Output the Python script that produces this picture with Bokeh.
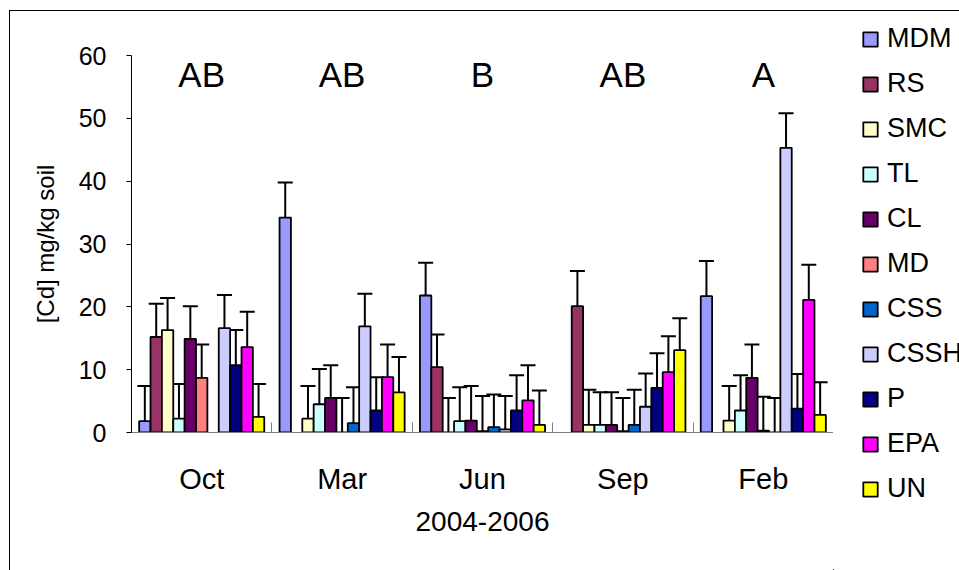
from bokeh.plotting import figure
from bokeh.layouts import row
from bokeh.models import (ColumnDataSource, Whisker, TeeHead, Legend, LegendItem,
                          FixedTicker, Range1d)
from bokeh.embed import file_html
from bokeh.resources import INLINE
from bokeh.core.properties import value

nan = float("nan")

# sampling months (2004-2006)
months = ["Oct", "Mar", "Jun", "Sep", "Feb"]
# significance letters per month
letters = ["AB", "AB", "B", "AB", "A"]

# sites, in drawing order
sites = ["MDM", "RS", "SMC", "TL", "CL", "MD", "CSS", "CSSH", "P", "EPA", "UN"]
site_colors = ["#9999FF", "#993366", "#FFFFCC", "#CCFFFF", "#660066", "#FF8080",
               "#0066CC", "#CCCCFF", "#000080", "#FF00FF", "#FFFF00"]

# mean [Cd] (mg/kg soil) per site, one value per month; nan = not sampled
mdm  = [1.8, 34.2, 21.8, nan, 21.7]
rs   = [15.2, nan, 10.4, 20.1, nan]
smc  = [16.3, 2.2, 0.0, 1.2, 1.9]
tl   = [2.2, 4.5, 1.8, 1.2, 3.5]
cl   = [14.9, 5.5, 1.9, 1.2, 8.7]
md   = [8.7, 0.0, 0.2, 0.2, 0.3]
css  = [nan, 1.5, 0.85, 1.2, 0.0]
cssh = [16.6, 16.9, 0.5, 4.1, 45.3]
p_   = [10.7, 3.5, 3.5, 7.1, 3.8]
epa  = [13.6, 8.8, 5.1, 9.6, 21.1]
un   = [2.5, 6.4, 1.2, 13.1, 2.8]

# standard deviations (upper error bars)
mdm_sd  = [5.6, 5.6, 5.2, nan, 5.6]
rs_sd   = [5.3, nan, 5.2, 5.6, nan]
smc_sd  = [5.1, 5.2, 5.5, 5.6, 5.5]
tl_sd   = [5.5, 5.6, 5.4, 5.2, 5.6]
cl_sd   = [5.2, 5.2, 5.5, 5.2, 5.3]
md_sd   = [5.3, 5.5, 5.6, 5.3, 5.4]
css_sd  = [nan, 5.7, 5.2, 5.6, 5.5]
cssh_sd = [5.3, 5.2, 5.3, 5.3, 5.5]
p_sd    = [5.6, 5.3, 5.6, 5.5, 5.5]
epa_sd  = [5.6, 5.2, 5.6, 5.7, 5.6]
un_sd   = [5.2, 5.6, 5.5, 5.1, 5.2]

means = [mdm, rs, smc, tl, cl, md, css, cssh, p_, epa, un]
sds = [mdm_sd, rs_sd, smc_sd, tl_sd, cl_sd, md_sd, css_sd, cssh_sd, p_sd, epa_sd, un_sd]

FONT = "Liberation Sans"
BAR_W = 0.081

# main chart
p = figure(width=823, height=559, x_range=Range1d(0, 5), y_range=Range1d(0, 60),
           output_backend="svg", toolbar_location=None,
           min_border_left=121, min_border_right=0,
           min_border_top=44, min_border_bottom=138)
p.frame_align = False
p.outline_line_color = None
p.grid.visible = False
p.background_fill_color = "white"
p.border_fill_color = "white"

# side panel holding the legend (no axes, frame fills the panel)
pl = figure(width=126, height=559, x_range=Range1d(0, 1), y_range=Range1d(0, 1),
            output_backend="svg", toolbar_location=None,
            x_axis_location=None, y_axis_location=None,
            min_border_left=0, min_border_right=0, min_border_top=0, min_border_bottom=0)
pl.frame_align = False
pl.grid.visible = False
pl.outline_line_color = None
pl.background_fill_color = "white"
pl.border_fill_color = "white"

legend_items = []
for j, (name, col, vals, errs) in enumerate(zip(sites, site_colors, means, sds)):
    xs = [i + 0.5 + (j - 5) * BAR_W for i in range(len(months))]
    src = ColumnDataSource(dict(x=xs, top=vals))
    p.vbar(x="x", top="top", width=BAR_W, source=src, fill_color=col,
           line_color="black", line_width=1.8)
    # swatch renderer for the legend, kept outside the visible range
    swatch = pl.vbar(x=[-5], top=[-5], bottom=[-6], width=0.1, fill_color=col,
                     line_color="black", line_width=1.8)
    legend_items.append(LegendItem(label=name, renderers=[swatch]))
    ex = [x for x, v, e in zip(xs, vals, errs) if v == v and e == e]
    lo = [v for v, e in zip(vals, errs) if v == v and e == e]
    hi = [v + e for v, e in zip(vals, errs) if v == v and e == e]
    esrc = ColumnDataSource(dict(base=ex, lower=lo, upper=hi))
    p.add_layout(Whisker(base="base", lower="lower", upper="upper", source=esrc,
                         line_color="black", line_width=2, lower_head=None,
                         upper_head=TeeHead(size=15, line_color="black", line_width=2)))

# significance letters above each month
p.text(x=[i + 0.5 for i in range(len(months))], y=[57] * len(months), text=letters,
       text_font=value(FONT), text_font_size="35px", text_align="center",
       text_baseline="middle", text_color="black")

# axes
yax = p.yaxis[0]
yax.ticker = FixedTicker(ticks=[0, 10, 20, 30, 40, 50, 60])
yax.axis_label = "[Cd] mg/kg soil"
yax.axis_label_text_font = FONT
yax.axis_label_text_font_style = "normal"
yax.axis_label_text_font_size = "24px"
yax.axis_label_text_color = "black"
yax.axis_label_standoff = 17
yax.major_label_text_font = FONT
yax.major_label_text_font_size = "25px"
yax.major_label_text_color = "black"
yax.major_label_standoff = 20
yax.major_tick_in = 0
yax.major_tick_out = 5
yax.major_tick_line_color = "black"
yax.minor_tick_line_color = None
yax.axis_line_color = "black"

xax = p.xaxis[0]
xax.ticker = FixedTicker(ticks=[i + 0.5 for i in range(len(months))],
                         minor_ticks=list(range(len(months) + 1)))
xax.major_label_overrides = {i + 0.5: m for i, m in enumerate(months)}
xax.major_tick_line_color = None
xax.major_tick_in = 0
xax.major_tick_out = 0
xax.minor_tick_in = 10
xax.minor_tick_out = 0
xax.minor_tick_line_color = "#808080"
xax.axis_line_color = "#808080"
xax.major_label_text_font = FONT
xax.major_label_text_font_size = "29px"
xax.major_label_text_color = "black"
xax.major_label_standoff = 30
xax.axis_label = "2004-2006"
xax.axis_label_text_font = FONT
xax.axis_label_text_font_style = "normal"
xax.axis_label_text_font_size = "28px"
xax.axis_label_text_color = "black"
xax.axis_label_standoff = 14

legend = Legend(items=legend_items, location=(28, 66), orientation="vertical",
                glyph_width=18, glyph_height=18, label_standoff=8,
                label_text_font=FONT, label_text_font_size="27px",
                label_text_color="black",
                label_height=18, spacing=14, padding=0, margin=0,
                border_line_color=None, background_fill_alpha=0)
pl.add_layout(legend, "center")

layout = row(p, pl, spacing=0,
             styles={"margin-left": "9px", "margin-top": "10px",
                     "border-left": "1px solid black", "border-top": "1px solid black"})

open("out.html", "w").write(file_html(layout, INLINE))
